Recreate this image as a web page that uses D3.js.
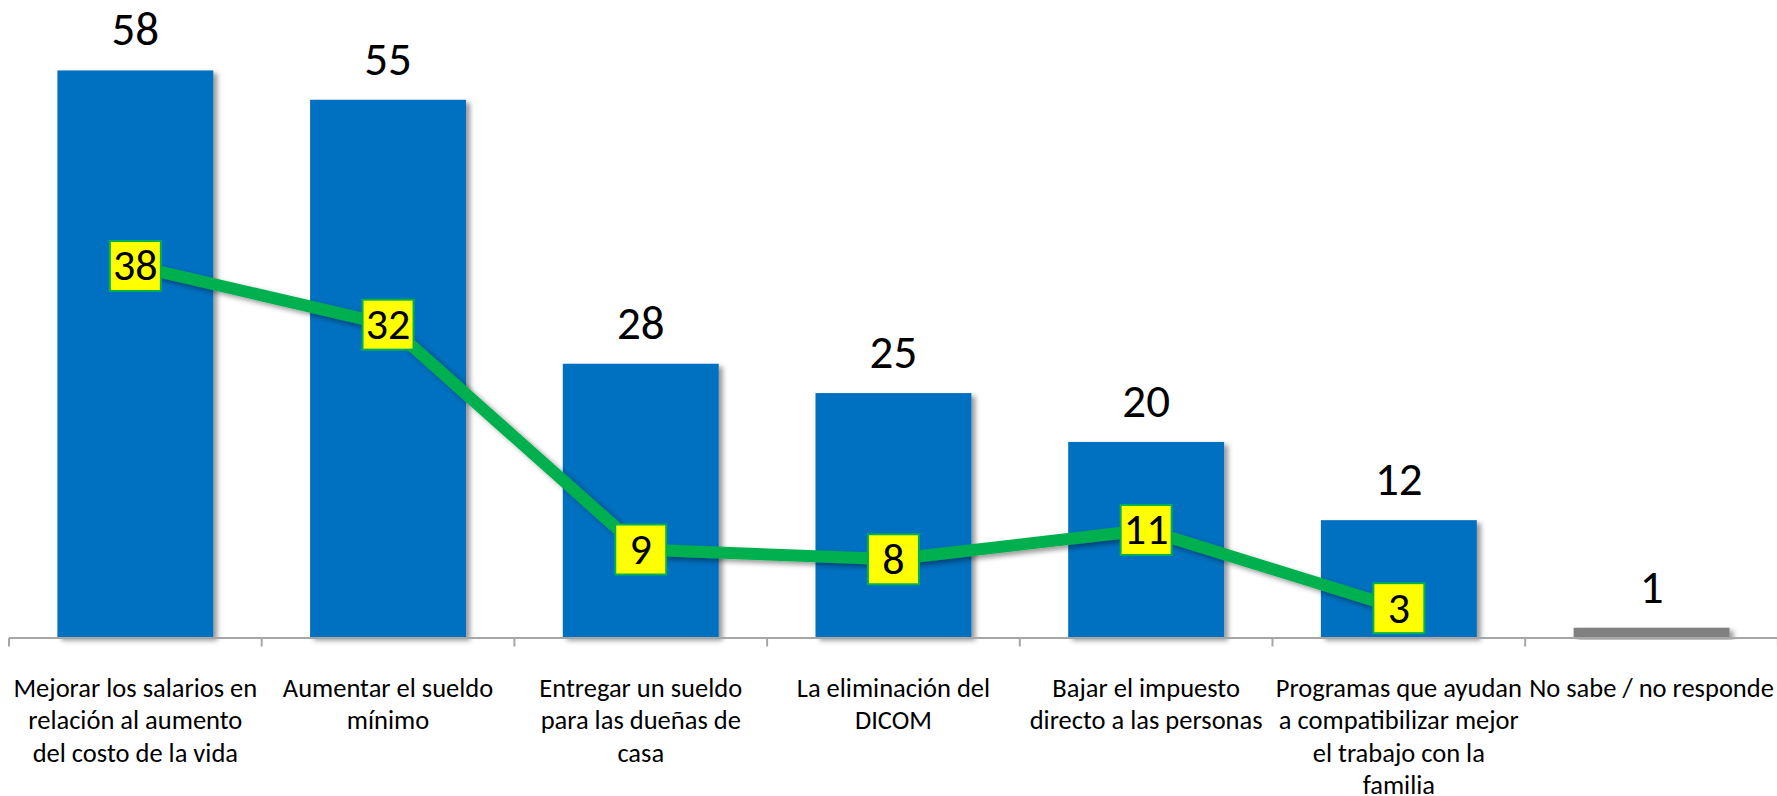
<!DOCTYPE html>
<html>
<head>
<meta charset="utf-8">
<script src="https://cdn.jsdelivr.net/npm/d3@7"></script>
<style>
  html, body { margin: 0; padding: 0; background: #ffffff; }
  svg { display: block; }
  text { font-family: Carlito, Lato, "Open Sans", sans-serif; fill: #000; }
</style>
</head>
<body>
<script>
const categories = [
  "Mejorar los salarios en\nrelación al aumento\ndel costo de la vida",
  "Aumentar el sueldo\nmínimo",
  "Entregar un sueldo\npara las dueñas de\ncasa",
  "La eliminación del\nDICOM",
  "Bajar el impuesto\ndirecto a las personas",
  "Programas que ayudan\na compatibilizar mejor\nel trabajo con la\nfamilia",
  "No sabe / no responde"
];
const barValues = [58, 55, 28, 25, 20, 12, 1];
const lineValues = [38, 32, 9, 8, 11, 3, null];

const W = 1777, H = 796;
const baseY = 637.5;

const svg = d3.select("body").append("svg").attr("width", W).attr("height", H);
svg.append("rect").attr("width", W).attr("height", H).attr("fill", "#fff");

const defs = svg.append("defs");
const f = defs.append("filter").attr("id", "shadow")
  .attr("x", "-10%").attr("y", "-10%").attr("width", "130%").attr("height", "130%");
f.append("feDropShadow").attr("dx", 4).attr("dy", 3).attr("stdDeviation", 2.5)
  .attr("flood-color", "#000").attr("flood-opacity", 0.4);

const x = d3.scaleBand().domain(categories).range([9, 9 + 7 * 252.7])
  .paddingInner(0.383).paddingOuter(0.1915);
const y = d3.scaleLinear().domain([0, 65]).range([baseY, 2]);

// bars
svg.append("g").selectAll("rect").data(barValues).join("rect")
  .attr("x", (d, i) => x(categories[i]))
  .attr("y", d => y(d))
  .attr("width", x.bandwidth())
  .attr("height", d => baseY - y(d))
  .attr("fill", (d, i) => i === categories.length - 1 ? "#808080" : "#0070C0")
  .attr("filter", "url(#shadow)");

// bar value labels
svg.append("g").selectAll("text").data(barValues).join("text")
  .attr("x", (d, i) => x(categories[i]) + x.bandwidth() / 2)
  .attr("y", d => y(d) - 25)
  .attr("text-anchor", "middle")
  .attr("font-size", 47)
  .text(d => d);

// axis
const axisG = svg.append("g").attr("transform", `translate(0,${baseY})`);
const bounds = d3.range(categories.length + 1).map(i => x.range()[0] + i * x.step());
axisG.append("line").attr("x1", bounds[0]).attr("x2", W).attr("y1", 0.5).attr("y2", 0.5)
  .attr("stroke", "#A6A6A6").attr("stroke-width", 2);
axisG.selectAll("line.tick").data(bounds).join("line").attr("class", "tick")
  .attr("x1", d => d).attr("x2", d => d).attr("y1", 0.5).attr("y2", 9)
  .attr("stroke", "#A6A6A6").attr("stroke-width", 2);

// category labels
const labelG = svg.append("g");
categories.forEach(c => {
  const cx = x(c) + x.bandwidth() / 2;
  const t = labelG.append("text")
    .attr("x", cx)
    .attr("y", 697)
    .attr("text-anchor", "middle")
    .attr("font-size", 26.5);
  c.split("\n").forEach((ln, j) => {
    t.append("tspan").attr("x", cx).attr("y", 697 + j * 32.3).text(ln);
  });
});

// line series
const pts = lineValues.map((v, i) => ({ v, c: categories[i] })).filter(d => d.v !== null);
const line = d3.line().x(d => x(d.c) + x.bandwidth() / 2).y(d => y(d.v));
svg.append("path").datum(pts).attr("d", line)
  .attr("fill", "none").attr("stroke", "#00B050").attr("stroke-width", 12)
  .attr("stroke-linejoin", "round").attr("filter", "url(#shadow)");

// line labels (yellow boxes)
const boxW = 51, boxH = 50;
const lg = svg.append("g").selectAll("g").data(pts).join("g")
  .attr("transform", d => `translate(${x(d.c) + x.bandwidth() / 2},${y(d.v)})`);
lg.append("rect").attr("x", -boxW / 2).attr("y", -boxH / 2).attr("width", boxW).attr("height", boxH)
  .attr("fill", "#FFFF00").attr("stroke", "#00B050").attr("stroke-width", 2);
lg.append("text").attr("text-anchor", "middle").attr("y", 14.5).attr("font-size", 44).text(d => d.v);
</script>
</body>
</html>
